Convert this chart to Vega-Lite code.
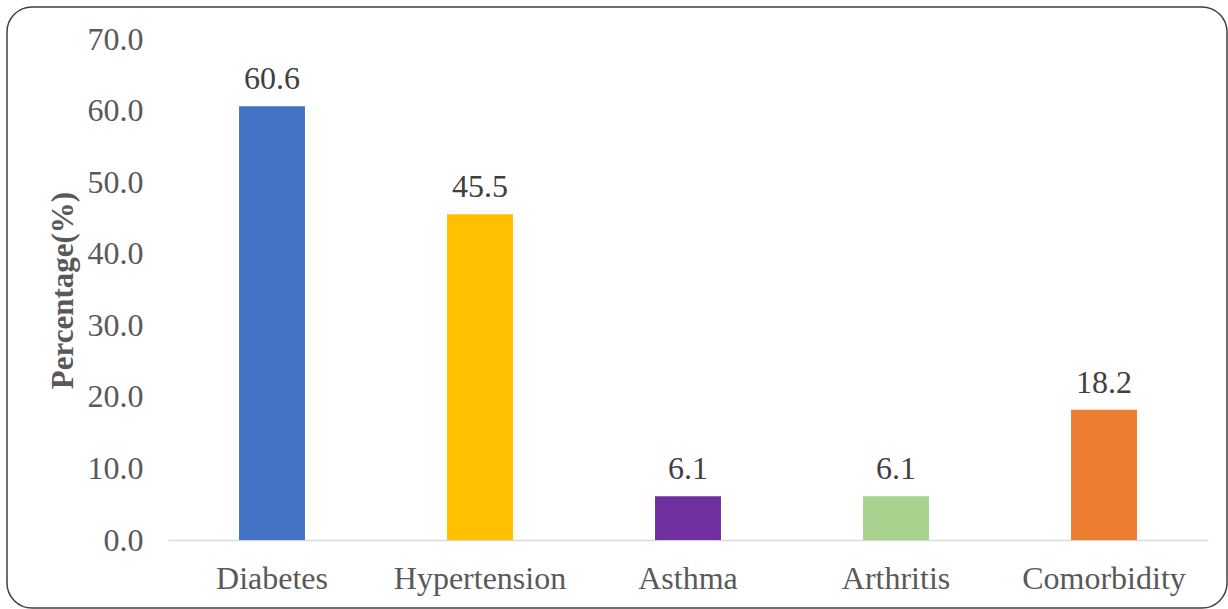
{
  "$schema": "https://vega.github.io/schema/vega-lite/v6.json",
  "width": 1220,
  "height": 601,
  "autosize": {"type": "none"},
  "padding": {"left": 7, "top": 7, "right": 1, "bottom": 1},
  "background": "white",
  "config": {
    "view": {"stroke": "#404040", "strokeWidth": 1.5, "cornerRadius": 25},
    "font": "Liberation Serif"
  },
  "data": {
    "values": [
      {"category": "Diabetes", "value": 60.6},
      {"category": "Hypertension", "value": 45.5},
      {"category": "Asthma", "value": 6.1},
      {"category": "Arthritis", "value": 6.1},
      {"category": "Comorbidity", "value": 18.2}
    ]
  },
  "encoding": {
    "x": {
      "field": "category",
      "type": "nominal",
      "sort": null,
      "scale": {"range": [161, 1201], "paddingInner": 0.683, "paddingOuter": 0.3415},
      "axis": {
        "title": null,
        "orient": "bottom",
        "offset": -68,
        "domainColor": "#d9d9d9",
        "domainWidth": 1.5,
        "ticks": false,
        "tickSize": 0,
        "labelAngle": 0,
        "labelBaseline": "alphabetic",
        "labelPadding": 48,
        "labelFont": "Liberation Serif",
        "labelFontSize": 32,
        "labelColor": "#595959"
      }
    },
    "y": {
      "field": "value",
      "type": "quantitative",
      "scale": {"domain": [0, 70], "range": [533, 32], "nice": false, "zero": true},
      "axis": {
        "values": [0, 10, 20, 30, 40, 50, 60, 70],
        "format": ".1f",
        "offset": -146,
        "domain": false,
        "ticks": false,
        "tickSize": 0,
        "grid": false,
        "labelPadding": 10,
        "labelFont": "Liberation Serif",
        "labelFontSize": 32,
        "labelColor": "#595959",
        "title": "Percentage(%)",
        "titleFont": "Liberation Serif",
        "titleFontSize": 31,
        "titleFontWeight": "bold",
        "titleColor": "#595959",
        "titleAngle": -90,
        "titleBaseline": "alphabetic",
        "titleAlign": "center",
        "titleX": -81,
        "titleY": 283
      }
    }
  },
  "layer": [
    {
      "mark": {"type": "bar"},
      "encoding": {
        "color": {
          "field": "category",
          "type": "nominal",
          "scale": {
            "domain": ["Diabetes", "Hypertension", "Asthma", "Arthritis", "Comorbidity"],
            "range": ["#4472C4", "#FFC000", "#7030A0", "#A9D18E", "#ED7D31"]
          },
          "legend": null
        }
      }
    },
    {
      "mark": {"type": "text", "baseline": "alphabetic", "dy": -17, "fontSize": 32, "font": "Liberation Serif", "color": "#404040"},
      "encoding": {
        "text": {"field": "value", "type": "quantitative", "format": ".1f"}
      }
    }
  ]
}
